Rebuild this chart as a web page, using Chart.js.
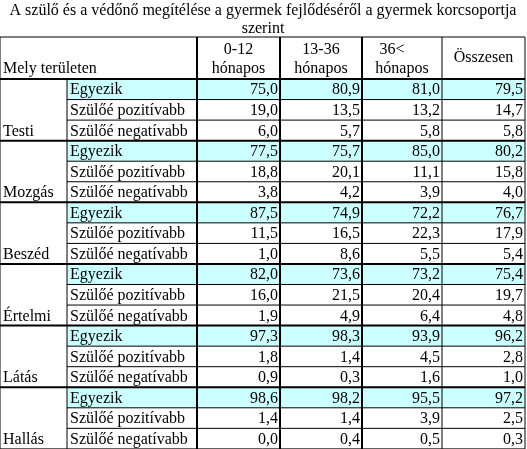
<!DOCTYPE html>
<html><head><meta charset="utf-8">
<script src="https://cdn.jsdelivr.net/npm/chart.js@4/dist/chart.umd.min.js"></script>
<style>html,body{margin:0;padding:0;background:#fff}#wrap{width:527px;height:449px}</style>
</head><body><div id="wrap"><canvas id="c"></canvas></div>
<script>
// table content
const title = ["A szülő és a védőnő megítélése a gyermek fejlődéséről a gyermek korcsoportja", "szerint"];
const headers = [["0-12", "hónapos"], ["13-36", "hónapos"], ["36<", "hónapos"], ["Összesen"]];
const areas = ["Testi", "Mozgás", "Beszéd", "Értelmi", "Látás", "Hallás"];
const answers = ["Egyezik", "Szülőé pozitívabb", "Szülőé negatívabb"];
const age0_12 = [75.0, 19.0, 6.0, 77.5, 18.8, 3.8, 87.5, 11.5, 1.0, 82.0, 16.0, 1.9, 97.3, 1.8, 0.9, 98.6, 1.4, 0.0];
const age13_36 = [80.9, 13.5, 5.7, 75.7, 20.1, 4.2, 74.9, 16.5, 8.6, 73.6, 21.5, 4.9, 98.3, 1.4, 0.3, 98.2, 1.4, 0.4];
const age36plus = [81.0, 13.2, 5.8, 85.0, 11.1, 3.9, 72.2, 22.3, 5.5, 73.2, 20.4, 6.4, 93.9, 4.5, 1.6, 95.5, 3.9, 0.5];
const total = [79.5, 14.7, 5.8, 80.2, 15.8, 4.0, 76.7, 17.9, 5.4, 75.4, 19.7, 4.8, 96.2, 2.8, 1.0, 97.2, 2.5, 0.3];

// layout in scale units
const colX = [0, 67, 197, 280, 362, 442, 525];
const tableTop = 37, headBottom = 79, rowH = 20.55;
const font = '16px "Liberation Serif", "Times New Roman", serif';

const tablePlugin = {
  id: 'table',
  afterDraw(chart) {
    const c = chart.ctx, sx = chart.scales.x, sy = chart.scales.y;
    const X = v => sx.getPixelForValue(v), Y = v => sy.getPixelForValue(v);
    const cols = [age0_12, age13_36, age36plus, total];
    const nRows = areas.length * answers.length;
    const bottom = headBottom + nRows * rowH;
    c.save();
    c.font = font; c.fillStyle = '#000'; c.textBaseline = 'middle';
    c.textAlign = 'center';
    c.fillText(title[0], X(263), Y(11));
    c.fillText(title[1], X(263), Y(29));
    // cyan rows
    for (let g = 0; g < areas.length; g++) {
      const y0 = headBottom + g * 3 * rowH;
      c.fillStyle = '#ccffff';
      c.fillRect(X(colX[1]), Y(y0), X(colX[6]) - X(colX[1]), Y(y0 + rowH) - Y(y0));
    }
    c.fillStyle = '#000';
    // header
    c.textAlign = 'left';
    c.fillText('Mely területen', X(3), Y(69));
    headers.forEach((h, i) => {
      const cx = (colX[i + 2] + colX[i + 3]) / 2;
      c.textAlign = 'center';
      if (h.length === 2) {
        c.fillText(h[0], X(i === 2 ? cx - 10 : cx), Y(50));
        c.fillText(h[1], X(cx), Y(69));
      } else c.fillText(h[0], X(cx), Y(58));
    });
    // body
    for (let r = 0; r < nRows; r++) {
      const yc = headBottom + r * rowH + rowH / 2 + 1;
      c.textAlign = 'left';
      c.fillText(answers[r % 3], X(colX[1] + 3), Y(yc));
      if (r % 3 === 2) c.fillText(areas[Math.floor(r / 3)], X(3), Y(yc));
      c.textAlign = 'right';
      cols.forEach((arr, i) => c.fillText(arr[r].toFixed(1).replace('.', ','), X(colX[i + 3] - 2), Y(yc)));
    }
    // grid
    const line = (x0, y0, x1, y1, w) => {
      c.lineWidth = w; c.beginPath(); c.moveTo(X(x0), Y(y0)); c.lineTo(X(x1), Y(y1)); c.stroke();
    };
    c.strokeStyle = '#000';
    line(colX[0], tableTop, colX[6], tableTop, 1);
    line(colX[0], headBottom, colX[6], headBottom, 2);
    for (let r = 1; r < nRows; r++) {
      const y = headBottom + r * rowH;
      if (r % 3 === 0) line(colX[0], y, colX[6], y, 2);
      else line(colX[1], y, colX[6], y, 1);
    }
    line(colX[0], bottom, colX[6], bottom, 1);
    colX.forEach((x, i) => {
      const w = (i >= 2 && i <= 4) ? 2 : 1;
      line(x, i === 1 ? headBottom : tableTop, x, bottom, w);
    });
    c.restore();
  }
};

new Chart(document.getElementById('c'), {
  type: 'scatter',
  data: { datasets: [{ data: [] }] },
  options: {
    responsive: true, maintainAspectRatio: false, animation: false,
    layout: { padding: 0 },
    plugins: { legend: { display: false }, tooltip: { enabled: false } },
    scales: {
      x: { type: 'linear', min: 0, max: 527, display: false },
      y: { type: 'linear', min: 0, max: 449, reverse: true, display: false }
    }
  },
  plugins: [tablePlugin]
});
</script></body></html>
